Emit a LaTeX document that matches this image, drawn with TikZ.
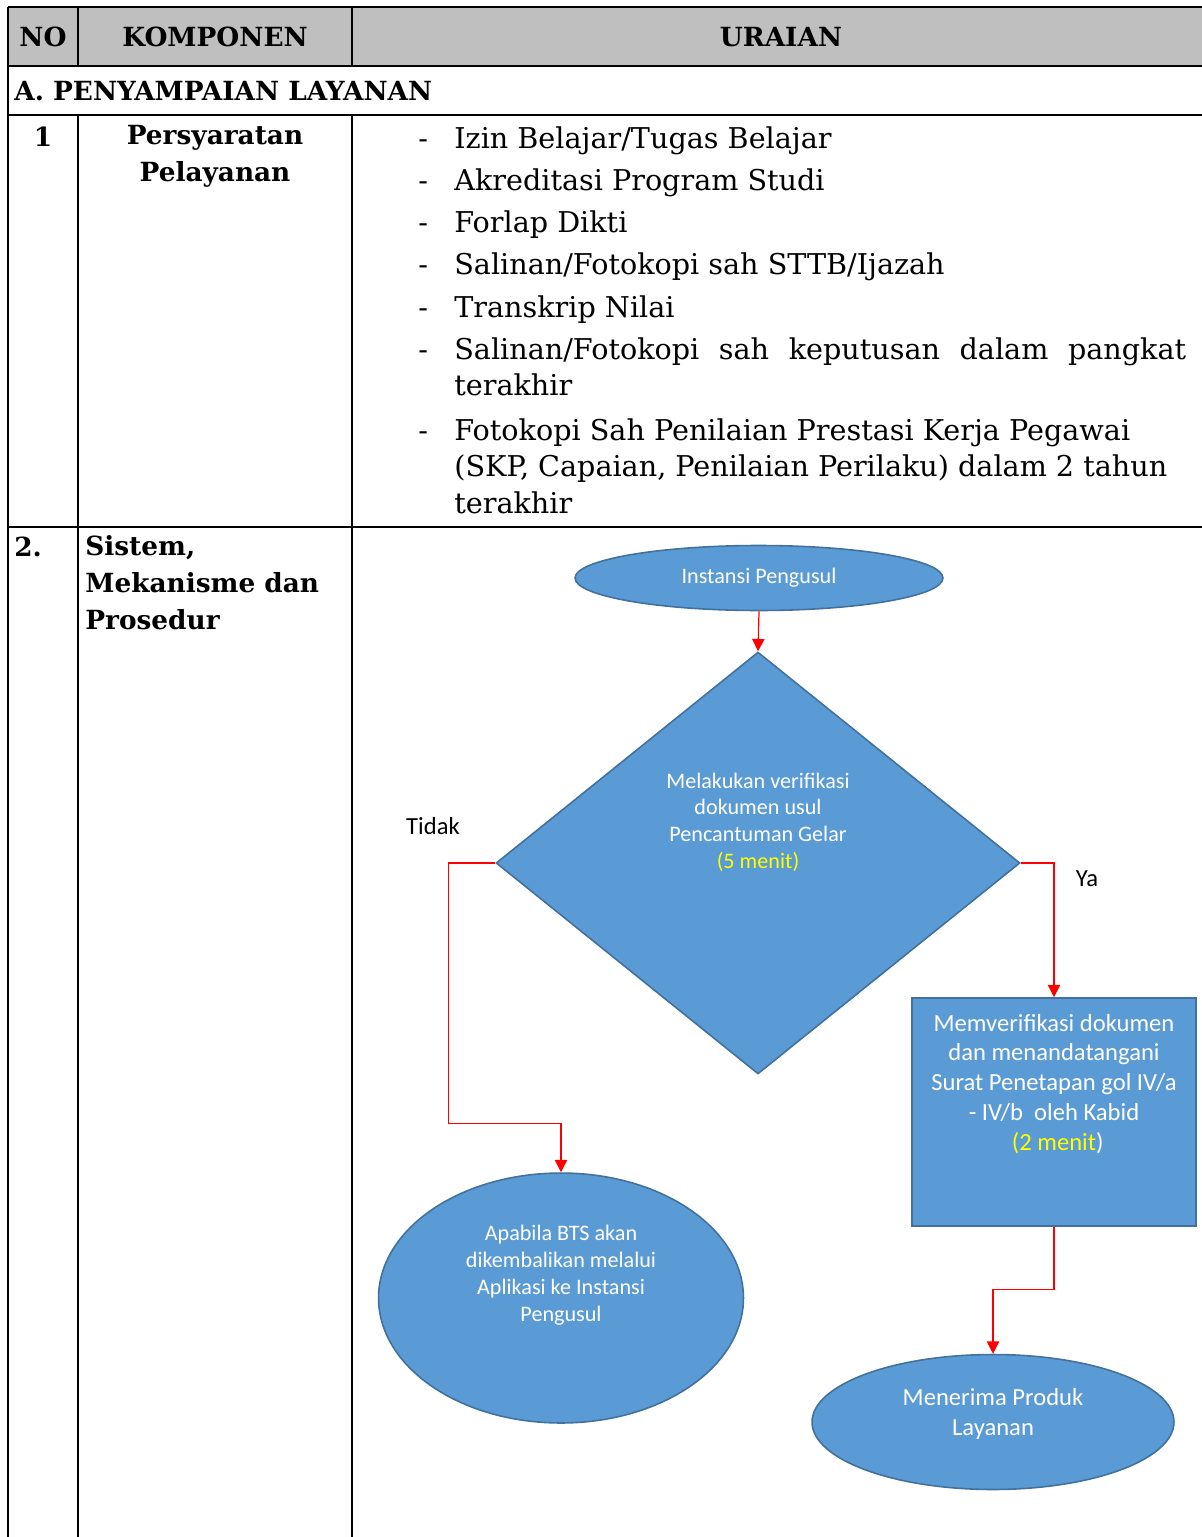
\documentclass[tikz,border=0pt]{standalone}
\usepackage{fontspec}
\setmainfont{DejaVu Serif}
\newfontfamily\flowfont{Carlito}
\usetikzlibrary{shapes.geometric,arrows.meta,positioning}
\definecolor{head-grey}{HTML}{BFBFBF}
\definecolor{flow-blue}{HTML}{5B9BD5}
\definecolor{flow-edge}{HTML}{41719C}
\definecolor{time-yellow}{HTML}{FFFF00}
\tikzset{
  tablerule/.style={line width=1.6pt},
  headtext/.style={font=\fontsize{15}{21}\selectfont\bfseries, inner sep=0pt},
  itemtext/.style={font=\fontsize{16.3}{21}\selectfont, anchor=west, inner sep=0pt,
                   text height=11.5pt, text depth=3.5pt, yshift=-0.06cm},
  flowshape/.style={fill=flow-blue, draw=flow-edge, line width=0.9pt, inner sep=0pt},
  flowtext/.style={text=white, align=center, inner sep=0pt},
  flowline/.style={red, line width=0.7pt, -{Triangle[width=7pt,length=7pt]}},
}
\begin{document}
\begin{tikzpicture}[x=0.02cm, y=-0.02cm]
    % Table: pixel grid of the page, y grows downwards
    %   columns at x = 8, 78, 352; rows at y = 7, 66, 115, 527
    \useasboundingbox (0,0) rectangle (1202,1537);
    \fill[head-grey] (8,7) rectangle (1202,66);
    \draw[tablerule] (8,7) -- (1202,7);
    \draw[tablerule] (8,66) -- (1202,66);
    \draw[tablerule] (8,115) -- (1202,115);
    \draw[tablerule] (8,527) -- (1202,527);
    \draw[tablerule] (8,7) -- (8,1537);
    \draw[tablerule] (78,7) -- (78,66) (78,115) -- (78,1537);
    \draw[tablerule] (352,7) -- (352,66) (352,115) -- (352,1537);

    % header row
    \node[headtext] (hno) at (43,37) {NO};
    \node[headtext] (hkomp) at (215,37) {KOMPONEN};
    \node[headtext] (huraian) at (781,37) {URAIAN};
    \node[headtext, anchor=west] (section) at (14,91) {A. PENYAMPAIAN LAYANAN};

    % row 1: persyaratan
    \node[headtext] (no1) at (43,137) {1};
    \node[headtext, align=center, anchor=north] (komp1) at (215,125)
          {Persyaratan\\Pelayanan};
    \foreach \y in {138,180,222,264,307,349,430}
      \node[itemtext] at (418,\y) {-};
    \node[itemtext] (item1) at (454,138) {Izin Belajar/Tugas Belajar};
    \node[itemtext] (item2) at (454,180) {Akreditasi Program Studi};
    \node[itemtext] (item3) at (454,222) {Forlap Dikti};
    \node[itemtext] (item4) at (454,264) {Salinan/Fotokopi sah STTB/Ijazah};
    \node[itemtext] (item5) at (454,307) {Transkrip Nilai};
    \node[itemtext] (item6) at (454,349)
          {\makebox[14.64cm][s]{Salinan/Fotokopi sah keputusan dalam pangkat}};
    \node[itemtext] (item6b) at (454,385) {terakhir};
    \node[itemtext] (item7) at (454,430) {Fotokopi Sah Penilaian Prestasi Kerja Pegawai};
    \node[itemtext] (item7b) at (454,466) {(SKP, Capaian, Penilaian Perilaku) dalam 2 tahun};
    \node[itemtext] (item7c) at (454,503) {terakhir};

    % row 2: sistem, mekanisme dan prosedur
    \node[headtext, anchor=west] (no2) at (14,547) {2.};
    \node[headtext, align=left, anchor=north west] (komp2) at (85,535)
          {Sistem,\\Mekanisme dan\\Prosedur};

    % flowchart
    \node[flowshape, ellipse, minimum width=7.36cm, minimum height=1.3cm,
          flowtext, font=\flowfont\fontsize{12.6}{14}\selectfont] (origin) at (759,578)
          {Instansi Pengusul};
    \node[flowshape, diamond, minimum width=10.48cm, minimum height=8.44cm] (verify) at (758,863) {};
    \node[flowtext, font=\flowfont\fontsize{12.6}{15.2}\selectfont] (verifytext)
          at ([yshift=0.82cm]verify.center)
          {Melakukan verifikasi\\dokumen usul\\Pencantuman Gelar\\\textcolor{time-yellow}{(5 menit)}};
    \node[flowshape, minimum width=5.68cm, minimum height=4.56cm] (accept) at (1054,1112) {};
    \node[flowtext, font=\flowfont\fontsize{14}{17}\selectfont] (accepttext)
          at ([yshift=0.56cm]accept.center)
          {Memverifikasi dokumen\\dan menandatangani\\Surat Penetapan gol IV/a\\- IV/b~ oleh Kabid\\\textcolor{time-yellow}{(2 menit}\rlap{)}};
    \node[flowshape, ellipse, minimum width=7.3cm, minimum height=5cm] (reject) at (561,1298) {};
    \node[flowtext, font=\flowfont\fontsize{12.6}{15.3}\selectfont] (rejecttext)
          at ([yshift=0.46cm]reject.center)
          {Apabila BTS akan\\dikembalikan melalui\\Aplikasi ke Instansi\\Pengusul};
    \node[flowshape, ellipse, minimum width=7.24cm, minimum height=2.7cm] (receive) at (993,1422) {};
    \node[flowtext, font=\flowfont\fontsize{14}{17}\selectfont] (receivetext)
          at ([yshift=0.16cm]receive.center)
          {Menerima Produk\\Layanan};

    \node[font=\flowfont\fontsize{14}{17}\selectfont] (tidak) at (433,826) {Tidak};
    \node[font=\flowfont\fontsize{14}{17}\selectfont] (ya) at (1087,879) {Ya};

    \draw[flowline] (origin.south) -- (verify.north);
    \draw[flowline] (verify.west) -- ++(-47,0) |- ([yshift=0.98cm]reject.north) -- (reject.north);
    \draw[flowline] (verify.east) -| (accept.north);
    \draw[flowline] (accept.south) -- ++(0,63) -| (receive.north);
\end{tikzpicture}
\end{document}
